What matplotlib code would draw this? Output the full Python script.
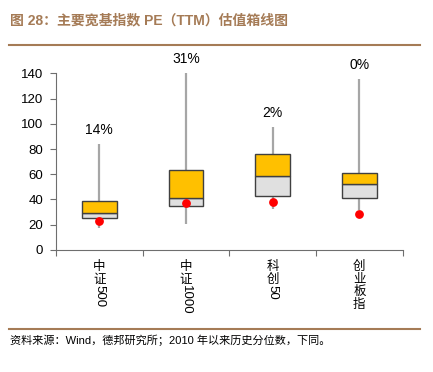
import matplotlib
matplotlib.use('Agg')
import matplotlib.pyplot as plt
from matplotlib.lines import Line2D

plt.rcParams['font.family'] = ['Liberation Sans', 'Noto Sans CJK SC']

# data
names = ['中证500', '中证1000', '科创50', '创业板指']
whisker_low = [17.2, 20.6, 32.5, 31.7]
q1 = [25.1, 34.9, 42.8, 41.0]
median = [29.6, 41.0, 58.6, 52.3]
q3 = [38.8, 63.4, 76.1, 60.8]
whisker_high = [83.7, 140.5, 97.2, 135.3]
current = [23.2, 37.0, 38.3, 28.5]
pct_labels = ['14%', '31%', '2%', '0%']

brown = '#A57B56'
axis_col = '#6E6E6E'
fig = plt.figure(figsize=(4.33, 3.72), dpi=100)
ax = fig.add_axes([0.129, 0.328, 0.801, 0.475])

x = list(range(len(names)))
ax.vlines(x, whisker_low, whisker_high, color='#A6A6A6', lw=1.6, zorder=1, clip_on=False)
ax.bar(x, [m - a for m, a in zip(median, q1)], bottom=q1, width=0.4,
       color='#E0E0E0', edgecolor='#404040', lw=1.0, zorder=2)
ax.bar(x, [b - m for b, m in zip(q3, median)], bottom=median, width=0.4,
       color='#FFC000', edgecolor='#404040', lw=1.0, zorder=2)
ax.scatter(x, current, color='#FF0000', s=28, zorder=3, clip_on=False)

for xi, top, lab in zip(x, whisker_high, pct_labels):
    ax.annotate(lab, (xi, top), xytext=(0, 5), textcoords='offset points',
                ha='center', va='bottom', fontsize=10, annotation_clip=False)

ax.set_xlim(-0.5, 3.5)
ax.set_ylim(0, 140)
ax.set_yticks(range(0, 141, 20))
ax.set_xticks([i - 0.5 for i in range(len(names) + 1)])
ax.set_xticklabels([])
ax.tick_params(axis='y', labelsize=9.5, length=4, pad=5, color=axis_col, width=0.8)
ax.tick_params(axis='x', length=4, color=axis_col, width=0.8)
for s in ['top', 'right']:
    ax.spines[s].set_visible(False)
for s in ['left', 'bottom']:
    ax.spines[s].set_color(axis_col)
    ax.spines[s].set_linewidth(0.8)

# vertical category labels: CJK upright, digits rotated
for xi, name in zip(x, names):
    cjk = ''.join(c for c in name if not c.isascii())
    asc = ''.join(c for c in name if c.isascii())
    off = -8
    for c in cjk:
        ax.annotate(c, (xi, 0), xycoords=('data', 'axes fraction'), xytext=(0, off),
                    textcoords='offset points', ha='center', va='top', fontsize=9)
        off -= 9
    if asc:
        ax.annotate(asc, (xi, 0), xycoords=('data', 'axes fraction'), xytext=(0, off + 1),
                    textcoords='offset points', ha='center', va='top', fontsize=9.5,
                    rotation=-90)

fig.text(0.023, 0.945, '图 28：主要宽基指数 PE（TTM）估值箱线图', color=brown,
         fontsize=10, fontweight='bold', va='center', ha='left')
fig.add_artist(Line2D([0.021, 0.97], [0.878, 0.878], color=brown, lw=1.5))
fig.add_artist(Line2D([0.021, 0.97], [0.116, 0.116], color=brown, lw=1.5))
fig.text(0.023, 0.085, '资料来源：Wind，德邦研究所；2010 年以来历史分位数，下同。',
         fontsize=8, va='center', ha='left')

fig.savefig('out.png', dpi=100)
